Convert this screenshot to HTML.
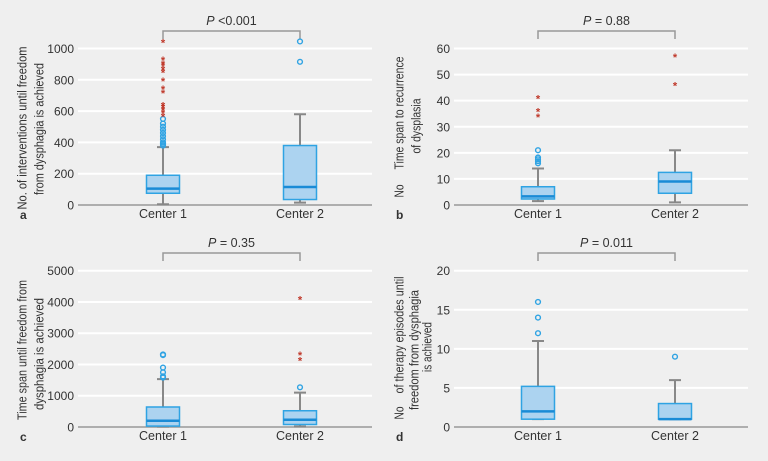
<!DOCTYPE html>
<html><head><meta charset="utf-8">
<style>
body{margin:0;background:#fff;}
svg{display:block;font-family:"Liberation Sans","DejaVu Sans",sans-serif;}
</style></head>
<body>
<svg id="fig" width="768" height="461" viewBox="0 0 768 461">
<rect x="0" y="0" width="768" height="461" fill="#efefef"/>
</svg>
<script>
const categories = ["Center 1","Center 2"];
// panel a
const aTicks = [0,200,400,600,800,1000];
const aStats = [[5,75,105,190,370],[15,35,115,380,580]];
const aCircles = [[380,390,400,420,440,460,480,500,520,550],[915,1045]];
const aStars = [[570,590,610,625,640,720,745,795,850,870,890,905,930,1040],[]];
// panel b
const bTicks = [0,10,20,30,40,50,60];
const bStats = [[1.5,2.3,3.3,7,14],[1,4.5,9,12.5,21]];
const bCircles = [[16,16.8,17.5,18.2,21],[]];
const bStars = [[34,36,41],[46,57]];
// panel c
const cTicks = [0,1000,2000,3000,4000,5000];
const cStats = [[10,30,200,640,1530],[20,80,230,520,1100]];
const cCircles = [[1580,1620,1750,1900,2300,2320],[1270]];
const cStars = [[],[2150,2320,4100]];
// panel d
const dTicks = [0,5,10,15,20];
const dStats = [[1,1,2,5.2,11],[1,1,1,3,6]];
const dCircles = [[12,14,16],[9]];
const dStars = [[],[]];

const NS="http://www.w3.org/2000/svg";
const svg=document.getElementById('fig');
function mk(tag,attrs,parent){const e=document.createElementNS(NS,tag);for(const k in attrs)e.setAttribute(k,attrs[k]);(parent||svg).appendChild(e);return e;}

const panels=[
 {id:'a',y0:205,yTop:48.5,gx0:78,gx1:372,cx:[163,300],ticks:aTicks,stats:aStats,circ:aCircles,stars:aStars,p:"<0.001",brY:31,labY:218,
  ylab:[["No. of interventions until freedom",22,128,163],["from dysphagia is achieved",39,129,132]]},
 {id:'b',y0:205,yTop:48.5,gx0:454,gx1:748,cx:[538,675],ticks:bTicks,stats:bStats,circ:bCircles,stars:bStars,p:"= 0.88",brY:31,labY:218,
  ylab:[["No",399,191,13],["Time span to recurrence",399,113,113],["of dysplasia",416,126,55]]},
 {id:'c',y0:427,yTop:270.7,gx0:78,gx1:372,cx:[163,300],ticks:cTicks,stats:cStats,circ:cCircles,stars:cStars,p:"= 0.35",brY:253,labY:440,
  ylab:[["Time span until freedom from",22,350,140],["dysphagia is achieved",39,354,112]]},
 {id:'d',y0:427,yTop:270.7,gx0:454,gx1:748,cx:[538,675],ticks:dTicks,stats:dStats,circ:dCircles,stars:dStars,p:"= 0.011",brY:253,labY:440,
  ylab:[["No",399,413,13],["of therapy episodes until",399,335,117],["freedom from dysphagia",414,350,120],["is achieved",427,347,50]]}
];

panels.forEach(P=>{
 const g=mk('g',{});
 
 
 const tmax=P.ticks[P.ticks.length-1];
 const ys=v=>P.y0-(v/tmax)*(P.y0-P.yTop);
 P.ticks.forEach(t=>{
  if(t>0){const l=mk('line',{x1:P.gx0,x2:P.gx1,y1:ys(t),y2:ys(t),stroke:'#fff','stroke-width':2},g);
   
   }
  const tx=mk('text',{x:P.gx0-4,y:ys(t)+4.5,'text-anchor':'end','font-size':12,fill:'#333'},g);
  tx.textContent=t;
  
  
 });
 const ax=mk('line',{x1:P.gx0,x2:P.gx1,y1:P.y0,y2:P.y0,stroke:'#999','stroke-width':1.5},g);
 
 
 P.ylab.forEach(L=>{
  const x=L[1]+4.5, my=L[2];
  const t=mk('text',{x:x,y:my,'text-anchor':'middle','font-size':12.5,fill:'#333',textLength:L[3],lengthAdjust:'spacingAndGlyphs',transform:`rotate(-90 ${x} ${my})`},g);
  t.textContent=L[0];
  
  
 });
 const pl=mk('text',{x:P.gx0-58,y:P.labY+1,'font-size':12,'font-weight':'bold',fill:'#333'},g);
 pl.textContent=P.id;
 
 
 const br=mk('path',{d:`M${P.cx[0]} ${P.brY+8}V${P.brY}H${P.cx[1]}V${P.brY+8}`,fill:'none',stroke:'#999','stroke-width':1.5},g);
 
 
 const pt=mk('text',{x:(P.cx[0]+P.cx[1])/2,y:P.brY-6,'text-anchor':'middle','font-size':12.5,fill:'#333'},g);
 pt.innerHTML='<tspan font-style="italic">P</tspan> '+P.p.replace('<','&lt;');
 
 
 categories.forEach((c,i)=>{
  const cx=P.cx[i], s=P.stats[i], hw=16.5;
  const cl=mk('text',{x:cx,y:P.labY,'text-anchor':'middle','font-size':12.5,fill:'#333'},g);
  cl.textContent=c;
  
  
  const w=mk('path',{d:`M${cx} ${ys(s[0])}V${ys(s[1])}M${cx} ${ys(s[3])}V${ys(s[4])}M${cx-6} ${ys(s[0])}H${cx+6}M${cx-6} ${ys(s[4])}H${cx+6}`,stroke:'#888','stroke-width':2,fill:'none'},g);
  
  
  const b=mk('rect',{x:cx-hw,y:ys(s[3]),width:2*hw,height:Math.max(1,ys(s[1])-ys(s[3])),fill:'#acd3f0',stroke:'#2fa3e3','stroke-width':1.5},g);
  
  
  const m=mk('line',{x1:cx-hw,x2:cx+hw,y1:ys(s[2]),y2:ys(s[2]),stroke:'#1a8bd6','stroke-width':2.5},g);
  
  
  P.circ[i].forEach(v=>{
   const o=mk('circle',{cx:cx,cy:ys(v),r:2.4,fill:'none',stroke:'#2fa3e3','stroke-width':1.4},g);
   
   
  });
  P.stars[i].forEach(v=>{
   const st=mk('text',{x:cx,y:ys(v)+4.5,'text-anchor':'middle','font-size':11,fill:'#c0392b','font-weight':'bold'},g);
   st.textContent='*';
   
   
  });
 });
});
</script>
</body></html>
